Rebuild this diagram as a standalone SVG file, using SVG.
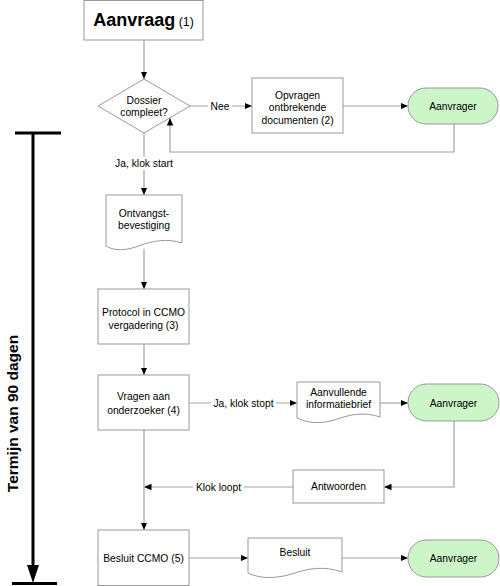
<svg xmlns="http://www.w3.org/2000/svg" width="500" height="586" viewBox="0 0 500 586">
<style>
text{font-family:"Liberation Sans",Arial,sans-serif;font-size:10.3px;fill:#000;text-anchor:middle}
text.big{font-size:15.5px;font-weight:bold}
.box{fill:#fff;stroke:#999;stroke-width:1}
.term{fill:#ccf5c8;stroke:#999;stroke-width:1}
.con{fill:none;stroke:#a3a3a3;stroke-width:1.2}
.lbg{fill:#fff}
.thick{stroke:#000;stroke-width:3;fill:none}
</style>
<defs>
<marker id="ah" markerUnits="userSpaceOnUse" markerWidth="8" markerHeight="8" viewBox="0 0 8 8" refX="7.5" refY="4" orient="auto">
<path d="M0,0.8 L7.5,4 L0,7.2 Z" fill="#000"/>
</marker>
</defs>
<rect width="500" height="586" fill="#fff"/>

<g id="connectors">
<path class="con" d="M144,40 V79" marker-end="url(#ah)"/>
<path class="con" d="M190,106 H252" marker-end="url(#ah)"/>
<path class="con" d="M343,106 H408" marker-end="url(#ah)"/>
<path class="con" d="M454,124 V152 H170 V118" marker-end="url(#ah)"/>
<path class="con" d="M144,133 V195" marker-end="url(#ah)"/>
<path class="con" d="M144,249 V289" marker-end="url(#ah)"/>
<path class="con" d="M144,344 V375" marker-end="url(#ah)"/>
<path class="con" d="M189,403 H297" marker-end="url(#ah)"/>
<path class="con" d="M380,403 H408" marker-end="url(#ah)"/>
<path class="con" d="M454,421 V487 H384" marker-end="url(#ah)"/>
<path class="con" d="M293,487 H144" marker-end="url(#ah)"/>
<path class="con" d="M144,430 V530" marker-end="url(#ah)"/>
<path class="con" d="M189,558 H248" marker-end="url(#ah)"/>
<path class="con" d="M342,558 H408" marker-end="url(#ah)"/>
<rect class="lbg" x="208" y="100" width="24" height="12"/>
<text x="220" y="110">Nee</text>
<rect class="lbg" x="113" y="157" width="62" height="13"/>
<text x="144" y="167">Ja, klok start</text>
<rect class="lbg" x="211" y="397" width="65" height="12"/>
<text x="243.5" y="407">Ja, klok stopt</text>
<rect class="lbg" x="193" y="481" width="51" height="12"/>
<text x="218.5" y="491">Klok loopt</text>
</g>

<g id="aanvraag">
<rect class="box" x="84" y="0.5" width="119" height="39.5"/>
<text x="143.5" y="26"><tspan font-size="18px" font-weight="bold">Aanvraag</tspan><tspan font-size="12.3px"> (1)</tspan></text>
</g>

<g id="dossier">
<path class="box" d="M144,79 L190,106 L144,133 L98,106 Z"/>
<text x="144" y="103.7">Dossier</text>
<text x="144" y="116">compleet?</text>
</g>

<g id="opvragen">
<rect class="box" x="252" y="78" width="91" height="55"/>
<text x="297.5" y="98.7">Opvragen</text>
<text x="297.5" y="111.2">ontbrekende</text>
<text x="297.5" y="123.7">documenten (2)</text>
</g>

<g id="aanvrager1">
<rect class="term" x="408" y="88" width="90" height="36" rx="18"/>
<text x="453" y="110">Aanvrager</text>
</g>

<g id="ontvangst">
<path class="box" d="M106,195 H182 V243 C167,238 152,241 140,245.5 C128,250 116,252 106,246 Z"/>
<text x="144" y="216.7">Ontvangst-</text>
<text x="144" y="228.7">bevestiging</text>
</g>

<g id="protocol">
<rect class="box" x="98" y="289" width="91" height="55"/>
<text x="143.5" y="316.4">Protocol in CCMO</text>
<text x="143.5" y="329.4">vergadering (3)</text>
</g>

<g id="vragen">
<rect class="box" x="98" y="375" width="91" height="55"/>
<text x="143.5" y="400.4">Vragen aan</text>
<text x="143.5" y="413.7">onderzoeker (4)</text>
</g>

<g id="aanvullende">
<path class="box" d="M297,382 H380 V417 C365,412 352,414 339,418.5 C327,423 310,425 297,418 Z"/>
<text x="338.5" y="395.5">Aanvullende</text>
<text x="338.5" y="407.8">informatiebrief</text>
</g>

<g id="aanvrager2">
<rect class="term" x="408" y="384" width="91" height="37" rx="18.5"/>
<text x="453.5" y="407">Aanvrager</text>
</g>

<g id="antwoorden">
<rect class="box" x="293" y="470" width="91" height="33"/>
<text x="338.5" y="490.4">Antwoorden</text>
</g>

<g id="besluitccmo">
<rect class="box" x="98" y="530" width="91" height="55.5"/>
<text x="143.5" y="562">Besluit CCMO (5)</text>
</g>

<g id="besluit">
<path class="box" d="M248,538 H342 V572 C325,566 310,568 295,573 C280,578 262,580 248,573 Z"/>
<text x="295" y="556.4">Besluit</text>
</g>

<g id="aanvrager3">
<rect class="term" x="408" y="540" width="91" height="37" rx="18.5"/>
<text x="453.5" y="562">Aanvrager</text>
</g>

<g id="termijn">
<line class="thick" x1="15" y1="133" x2="61" y2="133"/>
<line class="thick" x1="33" y1="133" x2="33" y2="567"/>
<polygon points="27,565 39,565 33,583" fill="#000"/>
<line class="thick" x1="12" y1="583.5" x2="57" y2="583.5"/>
<text class="big" transform="translate(17.5,413.5) rotate(-90)">Termijn van 90 dagen</text>
</g>
</svg>
